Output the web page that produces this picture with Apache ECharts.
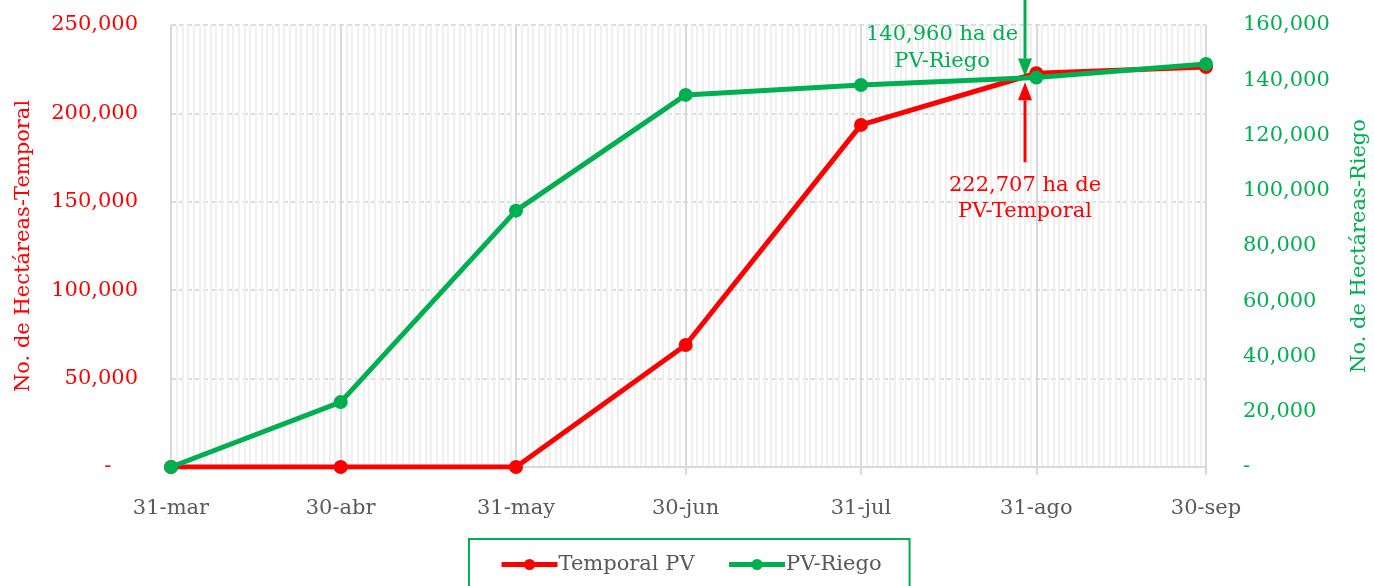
<!DOCTYPE html>
<html>
<head>
<meta charset="utf-8">
<script src="https://cdn.jsdelivr.net/npm/echarts@6/dist/echarts.min.js"></script>
<style>
  html, body { margin: 0; padding: 0; background: #fff; }
  #chart { width: 1374px; height: 586px; }
</style>
</head>
<body>
<div id="chart"></div>
<script>
// fechas de corte (fin de mes) y etiquetas del eje X
const fechas = ["2023-03-31", "2023-04-30", "2023-05-31", "2023-06-30", "2023-07-31", "2023-08-31", "2023-09-30"];
const etiquetas = ["31-mar", "30-abr", "31-may", "30-jun", "31-jul", "31-ago", "30-sep"];
// hectáreas acumuladas
const temporalPV = [0, 0, 0, 69000, 193500, 222707, 226200];
const pvRiego = [0, 23500, 92800, 134700, 138300, 140960, 145900];
// anotaciones
const notaRiego = "140,960 ha de\nPV-Riego";
const notaTemporal = "222,707 ha de\nPV-Temporal";
const fechaNota = "2023-08-29";

const ROJO = "#ff0000";
const VERDE = "#00b050";
const GRIS = "#595959";
const FONT = "DejaVu Serif";
const FS = 21;

const dia0 = new Date(fechas[0]).getTime();
const toDia = (f) => Math.round((new Date(f).getTime() - dia0) / 86400000);
const dias = fechas.map(toDia);
const diaMax = dias[dias.length - 1];

const fmt = (v) => (v === 0 ? "-    " : v.toLocaleString("en-US"));

const chart = echarts.init(document.getElementById("chart"));

chart.setOption({
  animation: false,
  textStyle: { fontFamily: FONT },
  grid: { left: 171, right: 168, top: 25, bottom: 119, outerBoundsMode: "none", containLabel: false },
  legend: {
    left: 469,
    top: 539,
    padding: [15, 28, 20, 30],
    itemGap: 32,
    itemWidth: 56,
    itemHeight: 14,
    borderColor: VERDE,
    borderWidth: 2,
    borderRadius: 0,
    lineStyle: { width: 5 },
    textStyle: { color: GRIS, fontSize: FS, fontFamily: FONT, padding: [0, 0, 0, -4] },
    data: ["Temporal PV", "PV-Riego"],
  },
  xAxis: [
    {
      type: "value",
      min: 0,
      max: diaMax,
      z: 2,
      axisLine: { show: true, lineStyle: { color: "#d9d9d9", width: 2 } },
      axisTick: { show: true, customValues: dias, length: 8, lineStyle: { color: "#d9d9d9", width: 2 } },
      axisLabel: {
        customValues: dias,
        color: GRIS,
        fontSize: FS,
        fontFamily: FONT,
        margin: 31,
        formatter: (v) => etiquetas[dias.indexOf(v)] || "",
      },
      splitLine: { show: true, lineStyle: { color: "#d9d9d9", width: 2 } },
    },
    {
      // líneas diarias de fondo
      type: "value",
      min: 0,
      max: diaMax,
      interval: 1,
      z: 0,
      axisLine: { show: false },
      axisTick: { show: false },
      axisLabel: { show: false },
      splitLine: { show: true, lineStyle: { color: "#f0f0f0", width: 2 } },
    },
  ],
  yAxis: [
    {
      type: "value",
      min: 0,
      max: 250000,
      interval: 50000,
      name: "No. de Hectáreas-Temporal",
      nameLocation: "middle",
      nameGap: 137,
      nameTextStyle: { color: ROJO, fontSize: FS, fontFamily: FONT },
      axisLine: { show: false },
      axisTick: { show: false },
      axisLabel: { color: ROJO, fontSize: FS, fontFamily: FONT, margin: 33, formatter: fmt },
      splitLine: { show: true, lineStyle: { color: "#dcdcdc", width: 2, type: [5, 3] } },
    },
    {
      type: "value",
      min: 0,
      max: 160000,
      interval: 20000,
      name: "No. de Hectáreas-Riego",
      nameLocation: "middle",
      nameGap: 143,
      nameTextStyle: { color: VERDE, fontSize: FS, fontFamily: FONT },
      axisLine: { show: false },
      axisTick: { show: false },
      axisLabel: { color: VERDE, fontSize: FS, fontFamily: FONT, margin: 37, formatter: fmt },
      splitLine: { show: false },
    },
  ],
  series: [
    {
      name: "Temporal PV",
      type: "line",
      xAxisIndex: 0,
      yAxisIndex: 0,
      symbol: "circle",
      symbolSize: 14,
      color: ROJO,
      lineStyle: { width: 5, color: ROJO },
      itemStyle: { color: ROJO },
      z: 3,
      data: dias.map((d, i) => [d, temporalPV[i]]),
    },
    {
      name: "PV-Riego",
      type: "line",
      xAxisIndex: 0,
      yAxisIndex: 1,
      symbol: "circle",
      symbolSize: 14,
      color: VERDE,
      lineStyle: { width: 5, color: VERDE },
      itemStyle: { color: VERDE },
      z: 4,
      data: dias.map((d, i) => [d, pvRiego[i]]),
    },
  ],
});

// flechas y notas ancladas al eje
const dn = toDia(fechaNota);
const iAgo = 5;
const pVerde = chart.convertToPixel({ xAxisIndex: 0, yAxisIndex: 1 }, [dn, pvRiego[iAgo]]);
const pRojo = chart.convertToPixel({ xAxisIndex: 0, yAxisIndex: 0 }, [dn, temporalPV[iAgo]]);

function flecha(x, y0, y1, color) {
  const dir = y1 > y0 ? 1 : -1;
  const h = 18;
  return [
    { type: "line", shape: { x1: x, y1: y0, x2: x, y2: y1 - dir * h }, style: { stroke: color, lineWidth: 3 } },
    { type: "polygon", shape: { points: [[x - 7, y1 - dir * h], [x + 7, y1 - dir * h], [x, y1]] }, style: { fill: color } },
  ];
}

const tipVerde = pVerde[1] - 1;
const tipRojo = pRojo[1] + 9;

chart.setOption({
  graphic: [
    ...flecha(pVerde[0], 0, tipVerde, VERDE),
    ...flecha(pRojo[0], tipRojo + 80, tipRojo, ROJO),
    {
      type: "text",
      x: pVerde[0] - 83,
      y: 21,
      style: { text: notaRiego, fill: VERDE, font: FS + "px '" + FONT + "'", align: "center", lineHeight: 27 },
    },
    {
      type: "text",
      x: pRojo[0],
      y: tipRojo + 90,
      style: { text: notaTemporal, fill: ROJO, font: FS + "px '" + FONT + "'", align: "center", lineHeight: 26 },
    },
  ],
});
</script>
</body>
</html>
